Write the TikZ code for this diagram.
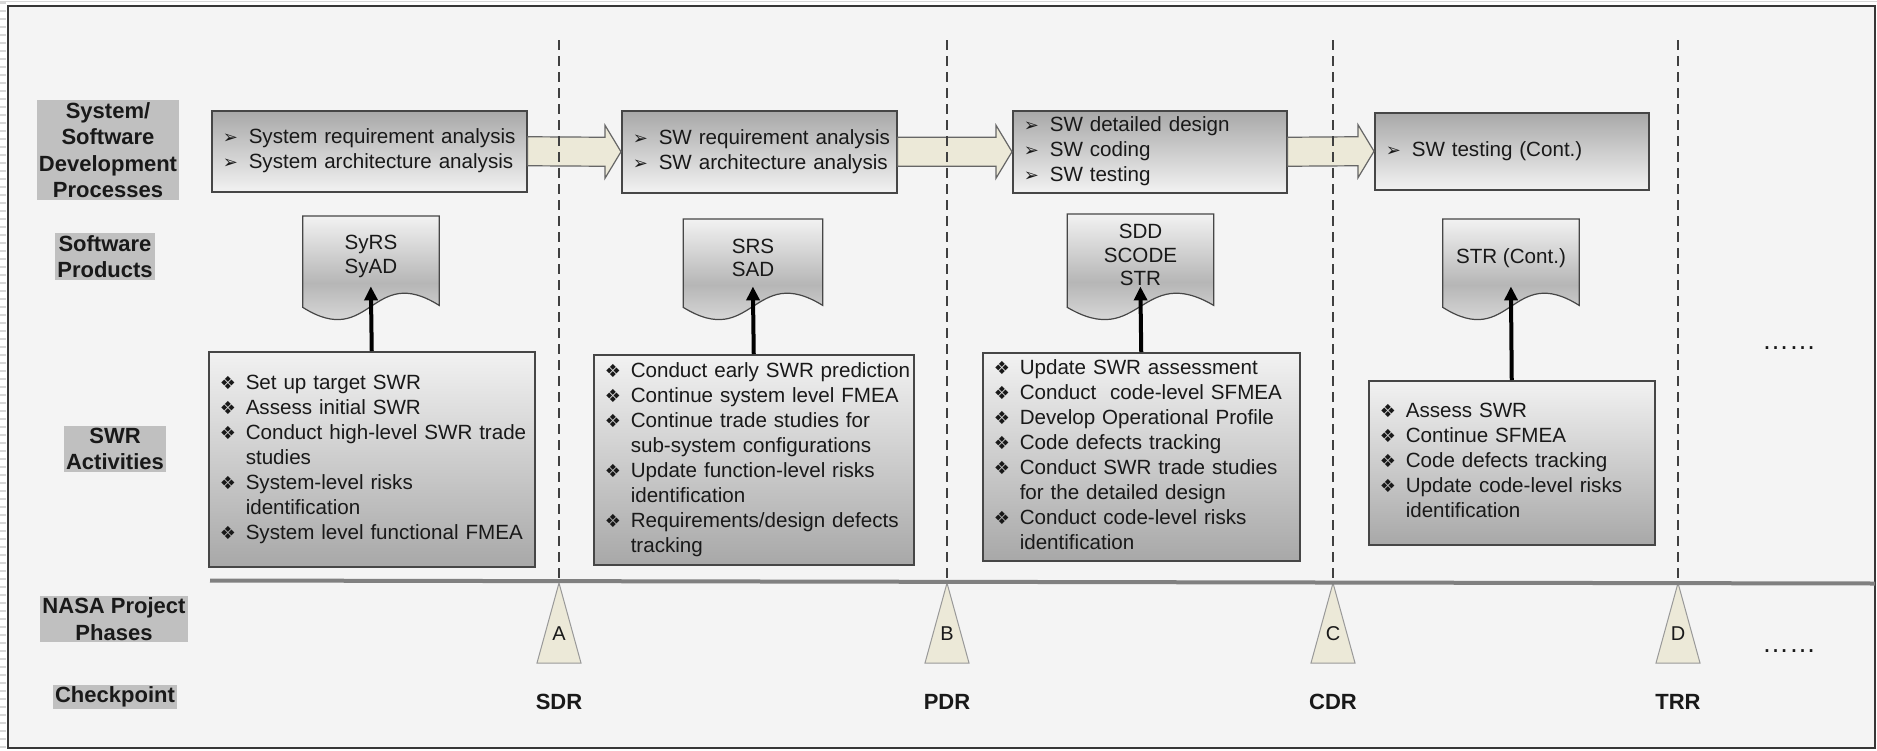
\documentclass[tikz,border=0pt]{standalone}
\usepackage{fontspec}
\setmainfont{Liberation Sans}
\newfontfamily\dingfont{DejaVu Sans}
\usetikzlibrary{arrows.meta,calc,backgrounds}
\definecolor{ink}{RGB}{25,25,25}
\definecolor{frameline}{RGB}{55,55,55}
\definecolor{paper}{RGB}{244,244,244}
\definecolor{stripe}{RGB}{215,215,215}
\definecolor{tagfill}{RGB}{192,192,192}
\definecolor{beige}{RGB}{236,233,216}
\definecolor{rulegray}{RGB}{128,128,128}
\definecolor{boxline}{RGB}{70,70,70}
\definecolor{shadedark}{RGB}{168,168,168}
\definecolor{shadelight}{RGB}{242,242,242}
\definecolor{docmid}{RGB}{182,182,182}
\newcommand{\pbul}{{\dingfont\fontsize{18}{18}\selectfont ➢}}
\newcommand{\abul}{{\dingfont\fontsize{18}{18}\selectfont ❖}}
\newenvironment{bullets}{\begin{tabular}{@{}p{26pt}@{}l@{}}}{\end{tabular}}

\begin{document}
\begin{tikzpicture}[x=1pt,y=-1pt,text=ink,
    tag/.style={fill=tagfill,inner sep=2pt,align=center,font=\fontsize{22}{26.5}\selectfont\bfseries},
    procbox/.style={draw=boxline,line width=1.5pt,top color=shadedark,bottom color=shadelight,anchor=north west,
      inner xsep=11pt,inner ysep=0pt,align=left,font=\fontsize{20.6}{25}\selectfont},
    actbox/.style={procbox,top color=shadelight,bottom color=shadedark},
    docnode/.style={anchor=north,minimum height=80pt,inner sep=0pt,align=center,font=\fontsize{20.6}{23.5}\selectfont},
    docsheet/.style={draw=boxline,line width=1.2pt,top color=shadelight,bottom color=shadelight,middle color=docmid},
    flow/.style={draw=black!60,line width=1.2pt,fill=beige},
    feed/.style={line width=4pt,-{Triangle[length=14pt,width=13pt]},shorten >=-10pt},
    divider/.style={draw=black!75,line width=2pt,dash pattern=on 10pt off 6pt},
    milestone/.style={draw=black!40,line width=1pt,fill=beige},
    chk/.style={font=\fontsize{22}{22}\selectfont\bfseries}]
  \useasboundingbox (0,0) rectangle (1877,750);
  \begin{scope}[on background layer]
    \foreach \y in {3,11,...,747} \draw[stripe,line width=1.2pt] (0,\y) -- (6,\y);
    \draw[stripe,line width=1.5pt] (0,1.5) -- (1877,1.5);
    \draw[frameline,line width=2pt,fill=paper] (8,6) rectangle (1875,748);
  \end{scope}

  % row titles
  \node[tag] (devlbl) at (108,150) {System/\\Software\\Development\\Processes};
  \node[tag] (prodlbl) at (105,256.5) {Software\\Products};
  \node[tag] (swrlbl) at (115,449) {SWR\\Activities};
  \node[tag] (phaselbl) at (114,619) {NASA Project\\Phases};
  \node[tag] (chklbl) at (115,697) {Checkpoint};

  % development processes
  \node[procbox,text width=293pt,minimum height=81pt] (p1) at (211,110) {\begin{bullets}
    \pbul & System requirement analysis\\
    \pbul & System architecture analysis
  \end{bullets}};
  \node[procbox,text width=253pt,minimum height=82pt] (p2) at (621,110) {\begin{bullets}
    \pbul & SW requirement analysis\\
    \pbul & SW architecture analysis
  \end{bullets}};
  \node[procbox,text width=252pt,minimum height=82pt] (p3) at (1012,110) {\begin{bullets}
    \pbul & SW detailed design\\
    \pbul & SW coding\\
    \pbul & SW testing
  \end{bullets}};
  \node[procbox,text width=252pt,minimum height=77pt] (p4) at (1374,112) {\begin{bullets}
    \pbul & SW testing (Cont.)
  \end{bullets}};
  \foreach \a/\b in {p1/p2,p2/p3,p3/p4}
    \draw[flow] ($(\a.east)+(0,-14.5)$) -- ($(\b.west)+(-16,-14.5)$) -- ($(\b.west)+(-16,-26.5)$) -- (\b.west)
      -- ($(\b.west)+(-16,26.5)$) -- ($(\b.west)+(-16,14.5)$) -- ($(\a.east)+(0,14.5)$) -- cycle;

  % software products
  \node[docnode,minimum width=136pt] (d1) at (371,216) {SyRS\\SyAD};
  \node[docnode,minimum width=139pt,minimum height=77pt] (d2) at (753,219) {SRS\\SAD};
  \node[docnode,minimum width=146pt,minimum height=82pt] (d3) at (1140.5,214) {SDD\\SCODE\\STR};
  \node[docnode,minimum width=136pt,minimum height=77pt] (d4) at (1511,219) {STR (Cont.)};
  \begin{scope}[on background layer]
    \foreach \d in {d1,d2,d3,d4}
      \draw[docsheet] (\d.north west) -- (\d.north east) -- ($(\d.south east)+(0,9)$)
        .. controls ($(\d.south)+(0,-34)$) and ($(\d.south)+(0,54)$) .. ($(\d.south west)+(0,11)$) -- cycle;
  \end{scope}

  % SWR activities
  \node[actbox,text width=304pt,minimum height=215pt] (a1) at (208,351) {\begin{bullets}
    \abul & Set up target SWR\\
    \abul & Assess initial SWR\\
    \abul & Conduct high-level SWR trade\\
          & studies\\
    \abul & System-level risks\\
          & identification\\
    \abul & System level functional FMEA
  \end{bullets}};
  \node[actbox,text width=298pt,minimum height=210pt] (a2) at (593,354) {\begin{bullets}
    \abul & Conduct early SWR prediction\\
    \abul & Continue system level FMEA\\
    \abul & Continue trade studies for\\
          & sub-system configurations\\
    \abul & Update function-level risks\\
          & identification\\
    \abul & Requirements/design defects\\
          & tracking
  \end{bullets}};
  \node[actbox,text width=295pt,minimum height=208pt] (a3) at (982,352) {\begin{bullets}
    \abul & Update SWR assessment\\
    \abul & Conduct~ code-level SFMEA\\
    \abul & Develop Operational Profile\\
    \abul & Code defects tracking\\
    \abul & Conduct SWR trade studies\\
          & for the detailed design\\
    \abul & Conduct code-level risks\\
          & identification
  \end{bullets}};
  \node[actbox,text width=264pt,minimum height=164pt] (a4) at (1368,380) {\begin{bullets}
    \abul & Assess SWR\\
    \abul & Continue SFMEA\\
    \abul & Code defects tracking\\
    \abul & Update code-level risks\\
          & identification
  \end{bullets}};
  \foreach \a/\d in {a1/d1,a2/d2,a3/d3,a4/d4} \draw[feed] (\a.north) -- (\d.south);

  % phase boundaries and reviews
  \foreach \x/\m/\c in {559/A/SDR,947/B/PDR,1333/C/CDR,1678/D/TRR} {
    \draw[divider] (\x,40) -- (\x,581);
    \draw[milestone] (\x,583) -- ++(-22,80) -- ++(44,0) -- cycle;
    \node[font=\fontsize{20}{20}\selectfont] (ph\m) at (\x,634) {\m};
    \node[chk] (cp\m) at (\x,702) {\c};
  }
  \draw[rulegray,line width=4pt] (210,580.5) -- (1875,583.5);
  \node[font=\fontsize{27}{27}\selectfont] (more1) at (1789,348) {……};
  \node[font=\fontsize{27}{27}\selectfont] (more2) at (1789,651) {……};
\end{tikzpicture}
\end{document}
